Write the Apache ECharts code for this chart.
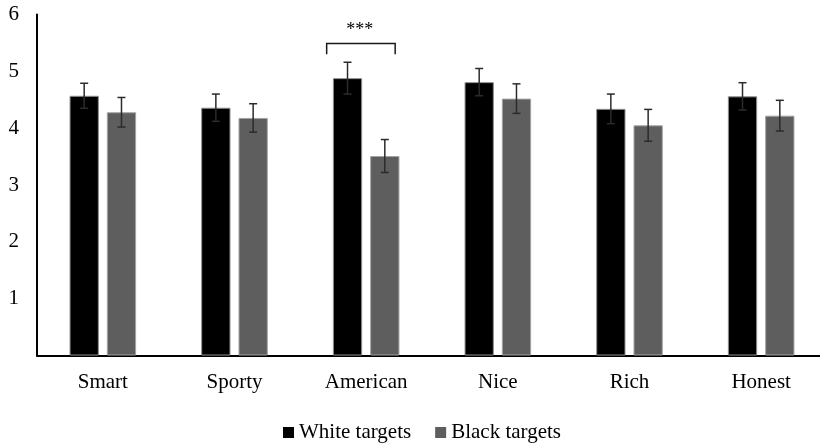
<!DOCTYPE html>
<html>
<head>
<meta charset="utf-8">
<script src="https://cdn.jsdelivr.net/npm/echarts@6/dist/echarts.min.js"></script>
<style>
html,body{margin:0;padding:0;background:#fff;}
#chart{width:820px;height:444px;}
</style>
</head>
<body>
<div id="chart"></div>
<script>
const categories = ['Smart', 'Sporty', 'American', 'Nice', 'Rich', 'Honest'];
const seriesNames = ['White targets', 'Black targets'];
const whiteMeans = [4.57, 4.36, 4.88, 4.81, 4.34, 4.56];
const whiteErrors = [0.22, 0.24, 0.28, 0.24, 0.26, 0.24];
const blackMeans = [4.28, 4.18, 3.51, 4.52, 4.05, 4.22];
const blackErrors = [0.26, 0.25, 0.29, 0.26, 0.28, 0.27];
const yTicks = [0, 1, 2, 3, 4, 5, 6];
// significance bracket: category, bracket top, leg bottom, label level, label
const sigCategory = ['American'];
const sigBracketTop = [5.49];
const sigBracketLeg = [5.30];
const sigLabelLevel = [5.72];
const sigLabel = ['***'];

const FONT = '"Liberation Serif", "Times New Roman", serif';
const BAR_W = 29.3;
const BAR_GAP_PX = 8;
const OFFSET = (BAR_W + BAR_GAP_PX) / 2;

function errData(means, errs) {
  return means.map((m, i) => [i, m - errs[i], m + errs[i]]);
}

function errRender(offset) {
  return function (params, api) {
    const top = api.coord([api.value(0), api.value(2)]);
    const bot = api.coord([api.value(0), api.value(1)]);
    const x = top[0] + offset;
    const cap = 4;
    const style = { stroke: '#2b2b2b', lineWidth: 1.5 };
    return {
      type: 'group',
      children: [
        { type: 'line', shape: { x1: x, y1: top[1], x2: x, y2: bot[1] }, style: style },
        { type: 'line', shape: { x1: x - cap, y1: top[1], x2: x + cap, y2: top[1] }, style: style },
        { type: 'line', shape: { x1: x - cap, y1: bot[1], x2: x + cap, y2: bot[1] }, style: style }
      ]
    };
  };
}

const sigData = sigCategory.map((c, i) => [categories.indexOf(c), sigBracketTop[i], sigBracketLeg[i], sigLabelLevel[i]]);

const chart = echarts.init(document.getElementById('chart'));
chart.setOption({
  animation: false,
  backgroundColor: '#fff',
  textStyle: { fontFamily: FONT },
  grid: { left: 37, width: 790, top: 14.5, bottom: 88.5, containLabel: false, outerBoundsMode: 'none' },
  legend: {
    data: seriesNames,
    top: 417,
    left: 278,
    icon: 'rect',
    itemWidth: 11,
    itemHeight: 11,
    itemGap: 24,
    textStyle: { fontFamily: FONT, fontSize: 21, color: '#000' },
    itemStyle: { borderWidth: 0 }
  },
  xAxis: {
    type: 'category',
    data: categories,
    axisLine: { lineStyle: { color: '#000', width: 2 } },
    axisTick: { show: false },
    axisLabel: { fontFamily: FONT, fontSize: 21, color: '#000', margin: 16 }
  },
  yAxis: {
    type: 'value',
    min: yTicks[0],
    max: yTicks[yTicks.length - 1],
    interval: 1,
    axisLine: { show: true, lineStyle: { color: '#000', width: 2 } },
    axisTick: { show: false },
    splitLine: { show: false },
    axisLabel: {
      fontFamily: FONT, fontSize: 21, color: '#000', margin: 18,
      formatter: v => (v === 0 ? '' : String(v))
    }
  },
  series: [
    {
      name: seriesNames[0], type: 'bar', data: whiteMeans,
      barWidth: BAR_W, barGap: (BAR_GAP_PX / BAR_W * 100) + '%',
      itemStyle: { color: '#000000', borderColor: '#8f8f8f', borderWidth: 1 }
    },
    {
      name: seriesNames[1], type: 'bar', data: blackMeans,
      barWidth: BAR_W,
      itemStyle: { color: '#5e5e5e', borderColor: '#a3a3a3', borderWidth: 1 }
    },
    {
      type: 'custom', name: 'errWhite', data: errData(whiteMeans, whiteErrors),
      renderItem: errRender(-OFFSET), encode: { x: 0, y: [1, 2] }, z: 5
    },
    {
      type: 'custom', name: 'errBlack', data: errData(blackMeans, blackErrors),
      renderItem: errRender(OFFSET), encode: { x: 0, y: [1, 2] }, z: 5
    },
    {
      type: 'custom', name: 'sig', data: sigData, z: 6,
      encode: { x: 0, y: [1, 2, 3] },
      renderItem: function (params, api) {
        const top = api.coord([api.value(0), api.value(1)]);
        const leg = api.coord([api.value(0), api.value(2)]);
        const lab = api.coord([api.value(0), api.value(3)]);
        const xl = top[0] - 39.5, xr = top[0] + 29;
        return {
          type: 'group',
          children: [
            {
              type: 'polyline',
              shape: { points: [[xl, leg[1]], [xl, top[1]], [xr, top[1]], [xr, leg[1]]] },
              style: { stroke: '#1a1a1a', lineWidth: 1.5, fill: null }
            },
            {
              type: 'text',
              style: {
                x: top[0] - 6.5, y: lab[1], text: sigLabel[params.dataIndex],
                align: 'center', verticalAlign: 'middle',
                font: '18px ' + FONT, fill: '#000'
              }
            }
          ]
        };
      }
    }
  ]
});
</script>
</body>
</html>
